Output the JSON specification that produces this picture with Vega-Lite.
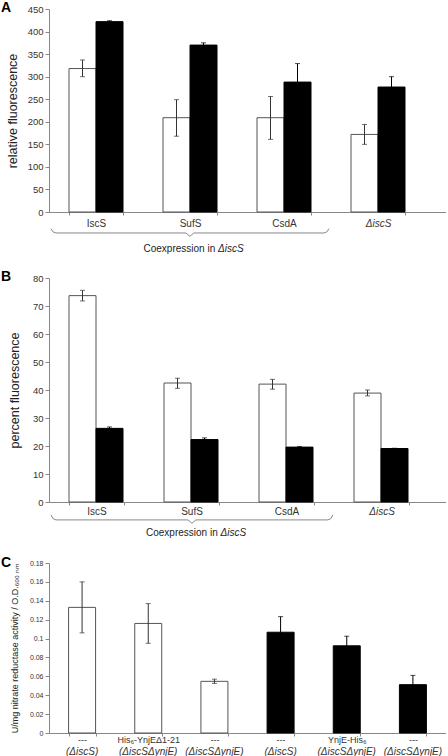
{
  "$schema": "https://vega.github.io/schema/vega-lite/v6.json",
  "padding": {"left": 1, "top": 1, "right": 0, "bottom": 0},
  "background": "white",
  "config": {
    "font": "Liberation Sans",
    "view": {"stroke": null},
    "axis": {"domainColor": "#888", "tickColor": "#888", "labelColor": "#333", "titleColor": "#222", "grid": false, "titleFontWeight": "normal", "labelFont": "Liberation Sans", "titleFont": "Liberation Sans", "labelOverlap": false},
    "title": {"font": "Liberation Sans", "color": "black"}
  },
  "bounds": "flush",
  "spacing": 30,
  "vconcat": [
        {
          "width": 397,
          "height": 203,
          "title": {"text": "A", "anchor": "start", "frame": "group", "fontSize": 14, "fontWeight": "bold", "dx": -48, "offset": -11},
          "layer": [
            {
              "data": {"values": [
                {"cat": "IscS", "series": "white", "value": 318, "lo": 300, "hi": 337},
                {"cat": "IscS", "series": "black", "value": 422, "lo": 420, "hi": 424},
                {"cat": "SufS", "series": "white", "value": 209, "lo": 168, "hi": 249},
                {"cat": "SufS", "series": "black", "value": 370, "lo": 365, "hi": 375},
                {"cat": "CsdA", "series": "white", "value": 209, "lo": 161, "hi": 256},
                {"cat": "CsdA", "series": "black", "value": 288, "lo": 247, "hi": 329},
                {"cat": "ΔiscS", "series": "white", "value": 172, "lo": 150, "hi": 194},
                {"cat": "ΔiscS", "series": "black", "value": 277, "lo": 255, "hi": 300}
              ]},
              "encoding": {
                "x": {"field": "cat", "type": "nominal", "sort": null,
                  "scale": {"paddingInner": 0.4255, "paddingOuter": 0.3245, "align": 0.328},
                  "axis": {"title": null, "labelFontSize": 10, "labelAngle": 0, "tickBand": "extent", "tickSize": 3, "labelPadding": 3,
                    "labelFontStyle": {"condition": {"test": "datum.value == 'ΔiscS'", "value": "italic"}, "value": "normal"}}},
                "xOffset": {"field": "series", "type": "nominal", "sort": ["white", "black"], "scale": {"paddingInner": 0, "paddingOuter": 0}}
              },
              "layer": [
                {
                  "mark": {"type": "bar", "strokeWidth": 1},
                  "encoding": {
                    "y": {"field": "value", "type": "quantitative", "scale": {"domain": [0, 450], "nice": false},
                      "axis": {"values": [0, 50, 100, 150, 200, 250, 300, 350, 400, 450], "title": "relative fluorescence", "titleFontSize": 12.5, "labelFontSize": 9.5, "tickSize": 4, "labelPadding": 2, "titlePadding": 8}},
                    "fill": {"field": "series", "type": "nominal", "scale": {"domain": ["white", "black"], "range": ["white", "black"]}, "legend": null},
                    "stroke": {"field": "series", "type": "nominal", "scale": {"domain": ["white", "black"], "range": ["#555", "black"]}, "legend": null}
                  }
                },
                {
                  "mark": {"type": "rule", "strokeWidth": 1},
                  "encoding": {
                    "y": {"field": "lo", "type": "quantitative", "scale": {"domain": [0, 450], "nice": false},
                      "axis": {"values": [0, 50, 100, 150, 200, 250, 300, 350, 400, 450], "title": "relative fluorescence", "titleFontSize": 12.5, "labelFontSize": 9.5, "tickSize": 4, "labelPadding": 2, "titlePadding": 8}},
                    "y2": {"field": "hi"},
                    "color": {"field": "series", "type": "nominal", "scale": {"domain": ["white", "black"], "range": ["#333", "black"]}, "legend": null}
                  }
                },
                {
                  "mark": {"type": "tick", "orient": "horizontal", "size": 5, "thickness": 1},
                  "encoding": {
                    "y": {"field": "lo", "type": "quantitative", "scale": {"domain": [0, 450], "nice": false},
                      "axis": {"values": [0, 50, 100, 150, 200, 250, 300, 350, 400, 450], "title": "relative fluorescence", "titleFontSize": 12.5, "labelFontSize": 9.5, "tickSize": 4, "labelPadding": 2, "titlePadding": 8}},
                    "color": {"field": "series", "type": "nominal", "scale": {"domain": ["white", "black"], "range": ["#333", "black"]}, "legend": null}
                  }
                },
                {
                  "mark": {"type": "tick", "orient": "horizontal", "size": 5, "thickness": 1},
                  "encoding": {
                    "y": {"field": "hi", "type": "quantitative", "scale": {"domain": [0, 450], "nice": false},
                      "axis": {"values": [0, 50, 100, 150, 200, 250, 300, 350, 400, 450], "title": "relative fluorescence", "titleFontSize": 12.5, "labelFontSize": 9.5, "tickSize": 4, "labelPadding": 2, "titlePadding": 8}},
                    "color": {"field": "series", "type": "nominal", "scale": {"domain": ["white", "black"], "range": ["#333", "black"]}, "legend": null}
                  }
                }
              ]
            },
            {
              "layer": [
                {
                  "data": {"values": [
                    {"i": 0, "bx": 0.02, "by": -37}, {"i": 1, "bx": 0.04, "by": -44}, {"i": 2, "bx": 0.07, "by": -46.5},
                    {"i": 3, "bx": 1.38, "by": -46.5}, {"i": 4, "bx": 1.42, "by": -54}, {"i": 5, "bx": 1.46, "by": -46.5},
                    {"i": 6, "bx": 2.77, "by": -46.5}, {"i": 7, "bx": 2.8, "by": -44}, {"i": 8, "bx": 2.82, "by": -37}
                  ]},
                  "mark": {"type": "line", "color": "#888", "strokeWidth": 1, "clip": false},
                  "encoding": {
                    "x": {"field": "bx", "type": "quantitative", "scale": {"domain": [0, 4], "nice": false, "zero": false}, "axis": null},
                    "y": {"field": "by", "type": "quantitative", "scale": {"domain": [0, 450], "nice": false},
                      "axis": {"values": [0, 50, 100, 150, 200, 250, 300, 350, 400, 450], "title": "relative fluorescence", "titleFontSize": 12.5, "labelFontSize": 9.5, "tickSize": 4, "labelPadding": 2, "titlePadding": 8}},
                    "order": {"field": "i"}
                  }
                },
                {
                  "data": {"values": [{"tx": 1.675, "ty": -82, "label": "Coexpression in"}]},
                  "mark": {"type": "text", "align": "right", "baseline": "middle", "fontSize": 10, "color": "#222"},
                  "encoding": {
                    "x": {"field": "tx", "type": "quantitative", "scale": {"domain": [0, 4], "nice": false, "zero": false}, "axis": null},
                    "y": {"field": "ty", "type": "quantitative", "scale": {"domain": [0, 450], "nice": false},
                      "axis": {"values": [0, 50, 100, 150, 200, 250, 300, 350, 400, 450], "title": "relative fluorescence", "titleFontSize": 12.5, "labelFontSize": 9.5, "tickSize": 4, "labelPadding": 2, "titlePadding": 8}},
                    "text": {"field": "label"}
                  }
                },
                {
                  "data": {"values": [{"tx": 1.703, "ty": -82, "label": "ΔiscS"}]},
                  "mark": {"type": "text", "align": "left", "baseline": "middle", "fontSize": 10, "fontStyle": "italic", "color": "#222"},
                  "encoding": {
                    "x": {"field": "tx", "type": "quantitative", "scale": {"domain": [0, 4], "nice": false, "zero": false}, "axis": null},
                    "y": {"field": "ty", "type": "quantitative", "scale": {"domain": [0, 450], "nice": false},
                      "axis": {"values": [0, 50, 100, 150, 200, 250, 300, 350, 400, 450], "title": "relative fluorescence", "titleFontSize": 12.5, "labelFontSize": 9.5, "tickSize": 4, "labelPadding": 2, "titlePadding": 8}},
                    "text": {"field": "label"}
                  }
                }
              ]
            }
          ],
          "resolve": {"scale": {"x": "independent"}}
        },
        {
          "width": 397,
          "height": 6,
          "data": {"values": []},
          "mark": {"type": "point", "opacity": 0},
          "encoding": {}
        },
        {
          "width": 397,
          "height": 224,
          "title": {"text": "B", "anchor": "start", "frame": "group", "fontSize": 14, "fontWeight": "bold", "dx": -48, "offset": -11},
          "layer": [
            {
              "data": {"values": [
                {"cat": "IscS", "series": "white", "value": 73.7, "lo": 71.8, "hi": 75.6},
                {"cat": "IscS", "series": "black", "value": 26.3, "lo": 25.8, "hi": 26.8},
                {"cat": "SufS", "series": "white", "value": 42.5, "lo": 40.6, "hi": 44.2},
                {"cat": "SufS", "series": "black", "value": 22.3, "lo": 21.8, "hi": 22.9},
                {"cat": "CsdA", "series": "white", "value": 42.1, "lo": 40.3, "hi": 43.8},
                {"cat": "CsdA", "series": "black", "value": 19.6, "lo": 19.4, "hi": 19.8},
                {"cat": "ΔiscS", "series": "white", "value": 38.9, "lo": 37.9, "hi": 40.0},
                {"cat": "ΔiscS", "series": "black", "value": 19.1, "lo": 19.0, "hi": 19.2}
              ]},
              "encoding": {
                "x": {"field": "cat", "type": "nominal", "sort": null,
                  "scale": {"paddingInner": 0.421, "paddingOuter": 0.3, "align": 0.351},
                  "axis": {"title": null, "labelFontSize": 10, "labelAngle": 0, "tickBand": "extent", "tickSize": 3, "labelPadding": 1,
                    "labelFontStyle": {"condition": {"test": "datum.value == 'ΔiscS'", "value": "italic"}, "value": "normal"}}},
                "xOffset": {"field": "series", "type": "nominal", "sort": ["white", "black"], "scale": {"paddingInner": 0, "paddingOuter": 0}}
              },
              "layer": [
                {
                  "mark": {"type": "bar", "strokeWidth": 1},
                  "encoding": {
                    "y": {"field": "value", "type": "quantitative", "scale": {"domain": [0, 80], "nice": false},
                      "axis": {"values": [0, 10, 20, 30, 40, 50, 60, 70, 80], "title": "percent fluorescence", "titleFontSize": 12.5, "labelFontSize": 9.5, "tickSize": 4, "labelPadding": 2, "titlePadding": 11}},
                    "fill": {"field": "series", "type": "nominal", "scale": {"domain": ["white", "black"], "range": ["white", "black"]}, "legend": null},
                    "stroke": {"field": "series", "type": "nominal", "scale": {"domain": ["white", "black"], "range": ["#555", "black"]}, "legend": null}
                  }
                },
                {
                  "mark": {"type": "rule", "strokeWidth": 1},
                  "encoding": {
                    "y": {"field": "lo", "type": "quantitative", "scale": {"domain": [0, 80], "nice": false},
                      "axis": {"values": [0, 10, 20, 30, 40, 50, 60, 70, 80], "title": "percent fluorescence", "titleFontSize": 12.5, "labelFontSize": 9.5, "tickSize": 4, "labelPadding": 2, "titlePadding": 11}},
                    "y2": {"field": "hi"},
                    "color": {"field": "series", "type": "nominal", "scale": {"domain": ["white", "black"], "range": ["#333", "black"]}, "legend": null}
                  }
                },
                {
                  "mark": {"type": "tick", "orient": "horizontal", "size": 5, "thickness": 1},
                  "encoding": {
                    "y": {"field": "lo", "type": "quantitative", "scale": {"domain": [0, 80], "nice": false},
                      "axis": {"values": [0, 10, 20, 30, 40, 50, 60, 70, 80], "title": "percent fluorescence", "titleFontSize": 12.5, "labelFontSize": 9.5, "tickSize": 4, "labelPadding": 2, "titlePadding": 11}},
                    "color": {"field": "series", "type": "nominal", "scale": {"domain": ["white", "black"], "range": ["#333", "black"]}, "legend": null}
                  }
                },
                {
                  "mark": {"type": "tick", "orient": "horizontal", "size": 5, "thickness": 1},
                  "encoding": {
                    "y": {"field": "hi", "type": "quantitative", "scale": {"domain": [0, 80], "nice": false},
                      "axis": {"values": [0, 10, 20, 30, 40, 50, 60, 70, 80], "title": "percent fluorescence", "titleFontSize": 12.5, "labelFontSize": 9.5, "tickSize": 4, "labelPadding": 2, "titlePadding": 11}},
                    "color": {"field": "series", "type": "nominal", "scale": {"domain": ["white", "black"], "range": ["#333", "black"]}, "legend": null}
                  }
                }
              ]
            },
            {
              "layer": [
                {
                  "data": {"values": [
                    {"i": 0, "bx": 0.02, "by": -4.6}, {"i": 1, "bx": 0.04, "by": -5.9}, {"i": 2, "bx": 0.07, "by": -6.4},
                    {"i": 3, "bx": 1.40, "by": -6.4}, {"i": 4, "bx": 1.44, "by": -7.6}, {"i": 5, "bx": 1.48, "by": -6.4},
                    {"i": 6, "bx": 2.81, "by": -6.4}, {"i": 7, "bx": 2.84, "by": -5.9}, {"i": 8, "bx": 2.86, "by": -4.6}
                  ]},
                  "mark": {"type": "line", "color": "#888", "strokeWidth": 1, "clip": false},
                  "encoding": {
                    "x": {"field": "bx", "type": "quantitative", "scale": {"domain": [0, 4], "nice": false, "zero": false}, "axis": null},
                    "y": {"field": "by", "type": "quantitative", "scale": {"domain": [0, 80], "nice": false},
                      "axis": {"values": [0, 10, 20, 30, 40, 50, 60, 70, 80], "title": "percent fluorescence", "titleFontSize": 12.5, "labelFontSize": 9.5, "tickSize": 4, "labelPadding": 2, "titlePadding": 11}},
                    "order": {"field": "i"}
                  }
                },
                {
                  "data": {"values": [{"tx": 1.70, "ty": -11, "label": "Coexpression in"}]},
                  "mark": {"type": "text", "align": "right", "baseline": "middle", "fontSize": 10, "color": "#222"},
                  "encoding": {
                    "x": {"field": "tx", "type": "quantitative", "scale": {"domain": [0, 4], "nice": false, "zero": false}, "axis": null},
                    "y": {"field": "ty", "type": "quantitative", "scale": {"domain": [0, 80], "nice": false},
                      "axis": {"values": [0, 10, 20, 30, 40, 50, 60, 70, 80], "title": "percent fluorescence", "titleFontSize": 12.5, "labelFontSize": 9.5, "tickSize": 4, "labelPadding": 2, "titlePadding": 11}},
                    "text": {"field": "label"}
                  }
                },
                {
                  "data": {"values": [{"tx": 1.728, "ty": -11, "label": "ΔiscS"}]},
                  "mark": {"type": "text", "align": "left", "baseline": "middle", "fontSize": 10, "fontStyle": "italic", "color": "#222"},
                  "encoding": {
                    "x": {"field": "tx", "type": "quantitative", "scale": {"domain": [0, 4], "nice": false, "zero": false}, "axis": null},
                    "y": {"field": "ty", "type": "quantitative", "scale": {"domain": [0, 80], "nice": false},
                      "axis": {"values": [0, 10, 20, 30, 40, 50, 60, 70, 80], "title": "percent fluorescence", "titleFontSize": 12.5, "labelFontSize": 9.5, "tickSize": 4, "labelPadding": 2, "titlePadding": 11}},
                    "text": {"field": "label"}
                  }
                }
              ]
            }
          ],
          "resolve": {"scale": {"x": "independent"}}
        },
    {
      "width": 397,
      "height": 1,
      "data": {"values": []},
      "mark": {"type": "point", "opacity": 0},
      "encoding": {}
    },
    {
      "width": 397,
      "height": 170,
      "title": {"text": "C", "anchor": "start", "frame": "group", "fontSize": 14, "fontWeight": "bold", "dx": -48, "offset": -11},
      "data": {"values": [
        {"cat": "1|---|(ΔiscS)", "series": "white", "value": 0.133, "lo": 0.106, "hi": 0.160},
        {"cat": "2|His₆-YnjEΔ1-21|(ΔiscSΔynjE)", "series": "white", "value": 0.116, "lo": 0.095, "hi": 0.137},
        {"cat": "3|---|(ΔiscSΔynjE)", "series": "white", "value": 0.0547, "lo": 0.0525, "hi": 0.057},
        {"cat": "4|---|(ΔiscS)", "series": "black", "value": 0.1067, "lo": 0.090, "hi": 0.1232},
        {"cat": "5|YnjE-His₆|(ΔiscSΔynjE)", "series": "black", "value": 0.0923, "lo": 0.082, "hi": 0.1025},
        {"cat": "6|---|(ΔiscSΔynjE)", "series": "black", "value": 0.0512, "lo": 0.041, "hi": 0.061}
      ]},
      "layer": [
        {
          "mark": {"type": "bar", "strokeWidth": 1},
          "encoding": {
            "x": {"field": "cat", "type": "nominal", "sort": null, "scale": {"paddingInner": 0.592, "paddingOuter": 0.296},
              "axis": {"orient": "bottom", "title": null, "labelFontSize": 9, "labelAngle": 0, "tickBand": "extent", "tickSize": 3, "labelPadding": -1, "labelExpr": "split(datum.value, '|')[1]"}},
            "y": {"field": "value", "type": "quantitative", "scale": {"domain": [0, 0.18], "nice": false},
              "axis": {"values": [0, 0.02, 0.04, 0.06, 0.08, 0.1, 0.12, 0.14, 0.16, 0.18], "format": ".2~f", "title": "U/mg nitrate reductase activity / O.D.₆₀₀ ₙₘ", "titleFontSize": 9, "labelFontSize": 7, "tickSize": 4, "labelPadding": 2, "titlePadding": 10}},
            "fill": {"field": "series", "type": "nominal", "scale": {"domain": ["white", "black"], "range": ["white", "black"]}, "legend": null},
            "stroke": {"field": "series", "type": "nominal", "scale": {"domain": ["white", "black"], "range": ["#555", "black"]}, "legend": null}
          }
        },
        {
          "mark": {"type": "rule", "strokeWidth": 1},
          "encoding": {
            "x": {"field": "cat", "type": "nominal", "sort": null,
              "axis": {"orient": "bottom", "title": null, "labelFontSize": 10, "labelAngle": 0, "labelFontStyle": "italic", "domain": false, "ticks": false, "labelPadding": 13.5, "labelExpr": "split(datum.value, '|')[2]"}},
            "y": {"field": "lo", "type": "quantitative", "scale": {"domain": [0, 0.18], "nice": false},
              "axis": {"values": [0, 0.02, 0.04, 0.06, 0.08, 0.1, 0.12, 0.14, 0.16, 0.18], "format": ".2~f", "title": "U/mg nitrate reductase activity / O.D.₆₀₀ ₙₘ", "titleFontSize": 9, "labelFontSize": 7, "tickSize": 4, "labelPadding": 2, "titlePadding": 10}},
            "y2": {"field": "hi"},
            "color": {"field": "series", "type": "nominal", "scale": {"domain": ["white", "black"], "range": ["#333", "black"]}, "legend": null}
          }
        },
        {
          "mark": {"type": "tick", "orient": "horizontal", "size": 5, "thickness": 1},
          "encoding": {
            "x": {"field": "cat", "type": "nominal", "sort": null, "axis": null},
            "y": {"field": "lo", "type": "quantitative", "scale": {"domain": [0, 0.18], "nice": false},
              "axis": {"values": [0, 0.02, 0.04, 0.06, 0.08, 0.1, 0.12, 0.14, 0.16, 0.18], "format": ".2~f", "title": "U/mg nitrate reductase activity / O.D.₆₀₀ ₙₘ", "titleFontSize": 9, "labelFontSize": 7, "tickSize": 4, "labelPadding": 2, "titlePadding": 10}},
            "color": {"field": "series", "type": "nominal", "scale": {"domain": ["white", "black"], "range": ["#333", "black"]}, "legend": null}
          }
        },
        {
          "mark": {"type": "tick", "orient": "horizontal", "size": 5, "thickness": 1},
          "encoding": {
            "x": {"field": "cat", "type": "nominal", "sort": null, "axis": null},
            "y": {"field": "hi", "type": "quantitative", "scale": {"domain": [0, 0.18], "nice": false},
              "axis": {"values": [0, 0.02, 0.04, 0.06, 0.08, 0.1, 0.12, 0.14, 0.16, 0.18], "format": ".2~f", "title": "U/mg nitrate reductase activity / O.D.₆₀₀ ₙₘ", "titleFontSize": 9, "labelFontSize": 7, "tickSize": 4, "labelPadding": 2, "titlePadding": 10}},
            "color": {"field": "series", "type": "nominal", "scale": {"domain": ["white", "black"], "range": ["#333", "black"]}, "legend": null}
          }
        }
      ],
      "resolve": {"axis": {"x": "independent"}}
    }
  ]
}
